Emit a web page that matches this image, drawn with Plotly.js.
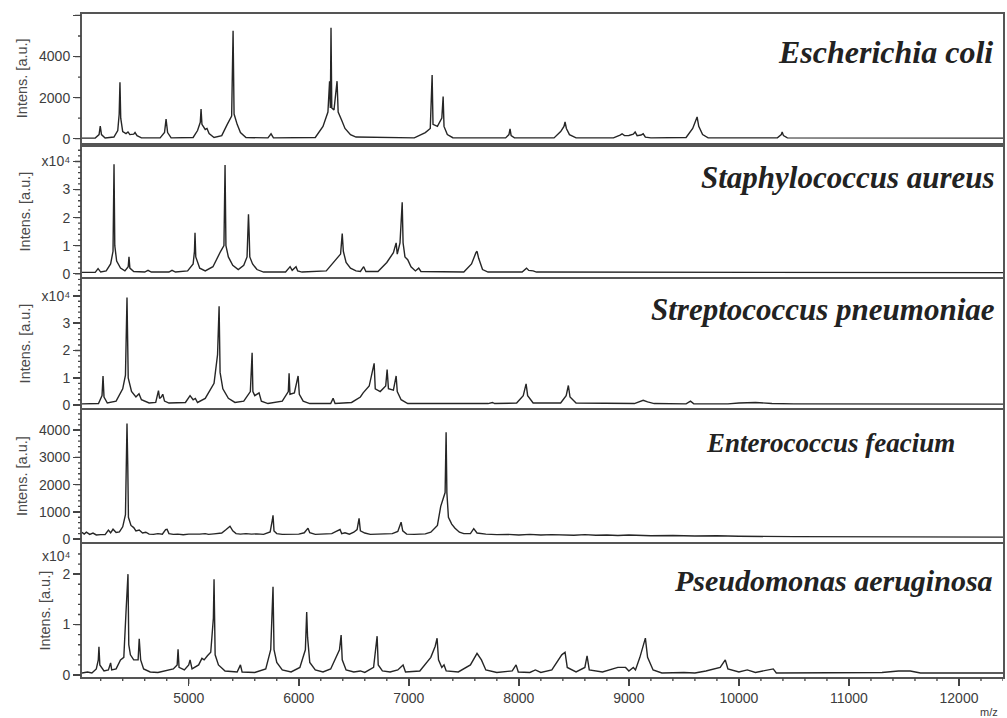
<!DOCTYPE html>
<html>
<head>
<meta charset="utf-8">
<script src="https://cdn.plot.ly/plotly-3.0.1.min.js"></script>
<style>html,body{margin:0;padding:0;background:#fff;}#chart{width:1007px;height:718px;}</style>
</head>
<body>
<div id="chart"></div>
<script>
// Species names (panel labels)
const species = ["Escherichia coli", "Staphylococcus aureus", "Streptococcus pneumoniae", "Enterococcus feacium", "Pseudomonas aeruginosa"];

// Spectra: [m/z, intensity]
// E. coli: intensity in a.u.
const ecoli = [[4030,30],[4150,30],[4185,200],[4196,620],[4207,200],[4240,40],
[4320,80],[4355,400],[4368,1200],[4375,2750],[4382,1000],[4400,350],[4430,250],[4448,330],[4465,200],[4500,220],[4512,300],[4530,150],[4570,40],
[4740,40],[4780,300],[4794,950],[4808,300],[4840,40],
[5040,60],[5080,400],[5105,800],[5112,1450],[5120,700],[5150,450],[5166,500],[5185,250],[5230,60],
[5300,150],[5350,700],[5390,1100],[5403,5250],[5412,1200],[5440,700],[5470,300],[5520,60],
[5720,40],[5748,240],[5770,40],
[6150,60],[6220,600],[6265,1300],[6280,2800],[6287,1500],[6293,5400],[6300,1500],[6320,1400],[6348,2800],[6358,1300],[6390,900],[6420,500],[6470,200],[6520,80],
[7050,40],[7150,300],[7195,500],[7205,1900],[7212,3100],[7220,700],[7260,600],[7300,1000],[7307,1800],[7312,2050],[7320,600],[7350,200],[7400,50],
[7880,40],[7910,200],[7920,480],[7930,150],[7960,40],
[8320,40],[8380,350],[8410,600],[8420,820],[8432,500],[8460,200],[8520,40],
[8860,40],[8920,180],[8938,240],[8960,150],[9000,160],[9040,220],[9057,330],[9075,150],[9110,180],[9130,240],[9150,80],[9200,40],
[9520,60],[9580,500],[9610,900],[9620,1060],[9635,600],[9670,200],[9720,40],
[10350,40],[10385,200],[10393,330],[10405,150],[10440,40],[12400,30]];

// S. aureus: intensity in 1e4 a.u.
const saureus = [[4030,0.05],[4150,0.05],[4176,0.18],[4200,0.06],
[4250,0.1],[4290,0.35],[4312,0.8],[4318,3.0],[4321,3.9],[4328,1.0],[4345,0.45],[4380,0.2],[4420,0.1],[4450,0.25],[4457,0.6],[4465,0.2],[4500,0.08],
[4600,0.06],[4630,0.12],[4660,0.06],
[4820,0.06],[4848,0.12],[4880,0.06],
[4990,0.1],[5040,0.35],[5052,0.8],[5057,1.46],[5064,0.6],[5100,0.2],[5150,0.1],
[5220,0.25],[5290,0.8],[5320,1.0],[5330,3.87],[5338,1.0],[5360,0.6],[5400,0.3],[5450,0.15],
[5500,0.3],[5530,0.6],[5543,2.12],[5549,1.45],[5555,0.6],[5580,0.35],[5620,0.15],[5680,0.06],
[5880,0.06],[5910,0.2],[5921,0.25],[5940,0.12],[5965,0.2],[5975,0.25],[5990,0.1],[6030,0.06],
[6250,0.1],[6330,0.45],[6380,0.7],[6395,1.43],[6405,0.8],[6430,0.4],[6470,0.2],[6520,0.1],
[6560,0.08],[6590,0.25],[6610,0.08],
[6720,0.08],[6800,0.4],[6860,0.75],[6885,1.1],[6895,0.7],[6920,1.1],[6940,2.55],[6948,1.1],[6965,0.6],[6990,0.5],[7020,0.25],[7060,0.1],[7090,0.2],[7110,0.08],
[7500,0.06],[7570,0.35],[7610,0.75],[7620,0.8],[7635,0.55],[7670,0.15],[7720,0.06],
[8030,0.06],[8070,0.2],[8090,0.12],[8130,0.1],[8160,0.06],[12400,0.04]];

// S. pneumoniae: intensity in 1e4 a.u.
const spneumo = [[4030,0.05],[4180,0.06],[4212,0.35],[4221,1.07],[4230,0.3],[4260,0.08],
[4340,0.15],[4400,0.6],[4425,1.1],[4439,3.94],[4450,1.0],[4480,0.5],[4520,0.3],[4548,0.42],[4570,0.2],[4640,0.08],
[4700,0.1],[4725,0.53],[4735,0.25],[4750,0.3],[4764,0.4],[4780,0.15],[4820,0.08],
[4970,0.1],[5012,0.35],[5040,0.2],[5060,0.25],[5080,0.1],
[5150,0.25],[5230,0.8],[5262,1.85],[5276,3.62],[5285,1.2],[5310,0.6],[5360,0.25],[5420,0.1],
[5500,0.15],[5560,0.5],[5576,1.92],[5583,0.5],[5600,0.35],[5639,0.45],[5660,0.15],[5720,0.06],
[5850,0.15],[5905,0.5],[5912,1.17],[5920,0.4],[5960,0.45],[5994,1.07],[6005,0.4],[6040,0.15],[6100,0.06],
[6290,0.06],[6312,0.25],[6330,0.06],
[6480,0.1],[6560,0.3],[6585,0.45],[6640,0.7],[6685,1.53],[6695,0.6],[6740,0.5],[6790,0.7],[6803,1.3],[6815,0.6],[6860,0.55],[6885,1.07],[6895,0.5],[6930,0.2],[6990,0.06],
[7720,0.06],[7760,0.1],[7780,0.06],
[7980,0.08],[8040,0.35],[8066,0.78],[8080,0.35],[8130,0.08],
[8380,0.08],[8430,0.35],[8450,0.72],[8465,0.3],[8520,0.08],
[9050,0.06],[9130,0.18],[9170,0.12],[9230,0.06],
[9520,0.05],[9560,0.15],[9590,0.05],
[9900,0.05],[10000,0.08],[10150,0.1],[10300,0.06],[10500,0.05],[12400,0.04]];

// E. faecium: intensity in a.u.
const efaecium = [[4030,250],[4050,180],[4070,250],[4100,170],[4130,220],[4160,150],[4200,160],[4240,160],[4270,330],[4290,230],[4312,360],[4340,240],[4370,260],[4400,450],[4425,900],[4432,2720],[4439,4250],[4446,2700],[4452,800],[4475,500],[4500,420],[4520,300],[4550,330],[4580,220],[4610,250],[4640,180],[4680,170],[4720,200],[4760,180],[4790,350],[4803,360],[4820,200],[4860,170],[4900,180],[4950,160],[5000,180],[5050,170],[5100,180],[5150,200],[5180,170],[5230,190],[5300,220],[5340,350],[5375,470],[5400,300],[5430,200],[5470,180],[5520,200],[5570,180],[5620,190],[5680,170],[5740,260],[5760,700],[5766,870],[5775,300],[5800,200],[5850,170],[5900,180],[5950,190],[6000,180],[6050,230],[6084,400],[6100,230],[6150,170],[6200,180],[6250,190],[6300,200],[6340,280],[6375,350],[6390,200],[6420,230],[6460,180],[6500,250],[6530,350],[6548,760],[6560,300],[6600,220],[6650,170],[6700,180],[6750,170],[6800,190],[6850,200],[6900,280],[6930,620],[6945,300],[6980,180],[7050,170],[7100,180],[7150,190],[7200,250],[7260,500],[7290,1200],[7330,1710],[7339,3930],[7346,1700],[7360,800],[7390,550],[7420,400],[7460,250],[7500,200],[7560,200],[7590,380],[7620,220],[7700,180],[7800,160],[7900,170],[8000,150],[8100,170],[8200,150],[8300,160],[8400,150],[8500,140],[8600,160],[8700,140],[8800,150],[8900,130],[9000,150],[9200,120],[9400,130],[9600,110],[9800,120],[10000,100],[10500,90],[11000,80],[12400,70]];

// P. aeruginosa: intensity in 1e4 a.u.
const paerug = [[4030,0.04],[4080,0.06],[4120,0.04],[4160,0.12],[4178,0.3],[4184,0.56],[4192,0.2],[4230,0.08],[4270,0.1],[4290,0.24],[4300,0.1],[4340,0.12],[4380,0.3],[4410,0.35],[4430,1.25],[4448,2.0],[4455,0.6],[4470,0.4],[4500,0.3],[4540,0.3],[4550,0.72],[4563,0.3],[4590,0.12],[4650,0.06],[4720,0.05],[4780,0.08],[4860,0.12],[4895,0.2],[4903,0.51],[4912,0.15],[4960,0.1],[5000,0.2],[5012,0.3],[5030,0.12],[5090,0.2],[5120,0.33],[5140,0.3],[5170,0.38],[5200,0.45],[5224,1.13],[5230,1.9],[5240,0.4],[5270,0.2],[5330,0.08],[5440,0.06],[5470,0.2],[5485,0.06],[5600,0.05],[5700,0.12],[5745,0.5],[5766,1.75],[5775,0.5],[5800,0.25],[5850,0.1],[5930,0.06],[6010,0.15],[6060,0.5],[6072,1.25],[6080,0.75],[6100,0.25],[6150,0.1],[6220,0.06],[6290,0.12],[6370,0.5],[6385,0.79],[6395,0.3],[6430,0.1],[6500,0.06],[6560,0.08],[6600,0.05],[6680,0.15],[6712,0.77],[6722,0.2],[6760,0.08],[6830,0.06],[6900,0.1],[6948,0.2],[6970,0.06],[7100,0.08],[7200,0.35],[7240,0.57],[7257,0.73],[7270,0.3],[7300,0.15],[7320,0.2],[7340,0.08],[7450,0.06],[7560,0.2],[7620,0.43],[7660,0.3],[7700,0.1],[7800,0.05],[7940,0.08],[7975,0.2],[7995,0.06],[8100,0.05],[8150,0.1],[8200,0.05],[8300,0.1],[8390,0.4],[8420,0.45],[8440,0.15],[8520,0.06],[8600,0.15],[8620,0.38],[8640,0.1],[8760,0.06],[8900,0.15],[8970,0.15],[9000,0.08],[9040,0.15],[9060,0.1],[9100,0.35],[9150,0.73],[9170,0.35],[9220,0.1],[9300,0.04],[9500,0.05],[9600,0.04],[9700,0.08],[9830,0.15],[9876,0.3],[9900,0.12],[10000,0.06],[10076,0.1],[10150,0.05],[10290,0.1],[10312,0.12],[10340,0.04],[10600,0.04],[11000,0.04],[11300,0.05],[11450,0.08],[11557,0.08],[11650,0.04],[12400,0.04]];

const spectra = [ecoli, saureus, spneumo, efaecium, paerug];

// tick spacing per panel (major / minor) and the 10^4 scale label
const yMajorStep = [2000, 1, 1, 1000, 1];
const yMinorStep = [1000, 0.2, 0.2, 200, 0.2];
const yAlias = [{'6000': ' '}, {'4': 'x10⁴'}, {'4': 'x10⁴'}, {}, {}];
const yRanges = [[-190, 6070],[-0.1, 4.53],[-0.12, 4.63],[-100, 4727],[-0.04, 2.59]];
const domains = [[0.806,1.0],[0.604,0.8],[0.405,0.601],[0.204,0.402],[0.0,0.2]];
const labelSizes = [32, 31, 31, 27, 30];
const xMajorStep = 1000, xMinorStep = 200;

const xRange = [4030, 12400];
const lineCol = '#262626';
const frameCol = '#555555';
const tickCol = '#444444';
const tickFont = {family:'Liberation Sans, Arial, sans-serif', size:14, color:'#3d3d3d'};

const W = 1007, H = 718, M = {l: 82, r: 4, t: 14, b: 41};
const plotW = W - M.l - M.r, plotH = H - M.t - M.b;

const traces = spectra.map((s, i) => ({
  x: s.map(p => p[0]),
  y: s.map(p => p[1]),
  type: 'scatter',
  mode: 'lines',
  line: {color: lineCol, width: 1.4},
  xaxis: 'x' + (i + 1),
  yaxis: 'y' + (i + 1),
  hoverinfo: 'skip',
  showlegend: false
}));

const layout = {
  width: W, height: H,
  margin: M,
  paper_bgcolor: '#fff', plot_bgcolor: '#fff',
  showlegend: false,
  annotations: [],
  shapes: []
};

// tick values at a given step inside a range
function stepVals(lo, hi, step) {
  const out = [];
  for (let k = Math.ceil(lo / step - 1e-9); k * step <= hi + 1e-9; k++) out.push(+(k * step).toFixed(6));
  return out;
}
function isMultiple(v, step) { const r = v / step; return Math.abs(r - Math.round(r)) < 1e-6; }

for (let i = 0; i < 5; i++) {
  const n = i + 1;
  const isBottom = (i === 4);
  const xa = {
    domain: [0, 1],
    anchor: 'y' + n,
    range: xRange,
    showline: true, mirror: true, linecolor: frameCol, linewidth: 2,
    showgrid: false, zeroline: false,
    showticklabels: isBottom,
    tickfont: tickFont
  };
  if (isBottom) {
    xa.ticks = 'outside';
    xa.tickmode = 'linear'; xa.tick0 = 0; xa.dtick = xMajorStep;
    xa.tickformat = 'd';
    xa.ticklen = 7; xa.tickcolor = tickCol; xa.tickwidth = 1.5;
  } else {
    xa.ticks = '';
    xa.matches = 'x5';
  }
  layout['xaxis' + n] = xa;
  layout['yaxis' + n] = {
    domain: domains[i],
    anchor: 'x' + n,
    range: yRanges[i],
    showline: true, mirror: true, linecolor: frameCol, linewidth: 2,
    showgrid: false, zeroline: false,
    ticks: 'outside', ticklen: 7, tickcolor: tickCol, tickwidth: 1.5,
    tickmode: 'linear', tick0: 0, dtick: yMajorStep[i], tickformat: 'd',
    labelalias: yAlias[i],
    tickfont: tickFont,
    title: {text: 'Intens. [a.u.]', font: {family: 'Liberation Sans, Arial, sans-serif', size: 14.5, color: '#4a4a4a'}, standoff: 8}
  };
  // tick marks along the y axis (major and minor), placed by the axis scale
  stepVals(yRanges[i][0], yRanges[i][1], yMinorStep[i]).forEach(v => {
    const len = isMultiple(v, yMajorStep[i]) ? 7 : 4;
    layout.shapes.push({type: 'line', xref: 'paper', yref: 'y' + n, x0: -len / plotW, x1: -1 / plotW, y0: v, y1: v,
      line: {color: tickCol, width: 1.3}});
  });
}
// tick marks along the bottom x axis
stepVals(xRange[0], xRange[1], xMinorStep).forEach(v => {
  const len = isMultiple(v, xMajorStep) ? 7 : 4;
  layout.shapes.push({type: 'line', xref: 'x5', yref: 'paper', x0: v, x1: v, y0: -1 / plotH, y1: -len / plotH,
    line: {color: tickCol, width: 1.3}});
});

// x10^4 marker for bottom panel
layout.annotations.push({
  xref: 'paper', yref: 'y5', x: 0, y: 2.36, xshift: -9, xanchor: 'right', yanchor: 'middle',
  text: 'x10⁴', showarrow: false, font: tickFont
});

// species labels
const labelPos = [[0.991, 0.943],[0.9935, 0.753],[0.9935, 0.554],[0.950, 0.353],[0.991, 0.146]];
species.forEach((s, i) => {
  layout.annotations.push({
    xref: 'paper', yref: 'paper', x: labelPos[i][0], y: labelPos[i][1],
    xanchor: 'right', yanchor: 'middle', showarrow: false, text: s,
    font: {family: 'Liberation Serif, DejaVu Serif, serif', size: labelSizes[i], color: '#222', weight: 'bold', style: 'italic'}
  });
});
// m/z label
layout.annotations.push({
  xref: 'paper', yref: 'paper', x: 0.997, y: -0.053, xanchor: 'right', yanchor: 'middle',
  showarrow: false, text: 'm/z', font: {family: 'Liberation Sans, Arial, sans-serif', size: 11, color: '#3a3a3a'}
});

Plotly.newPlot('chart', traces, layout, {staticPlot: true, displayModeBar: false});
</script>
</body>
</html>
